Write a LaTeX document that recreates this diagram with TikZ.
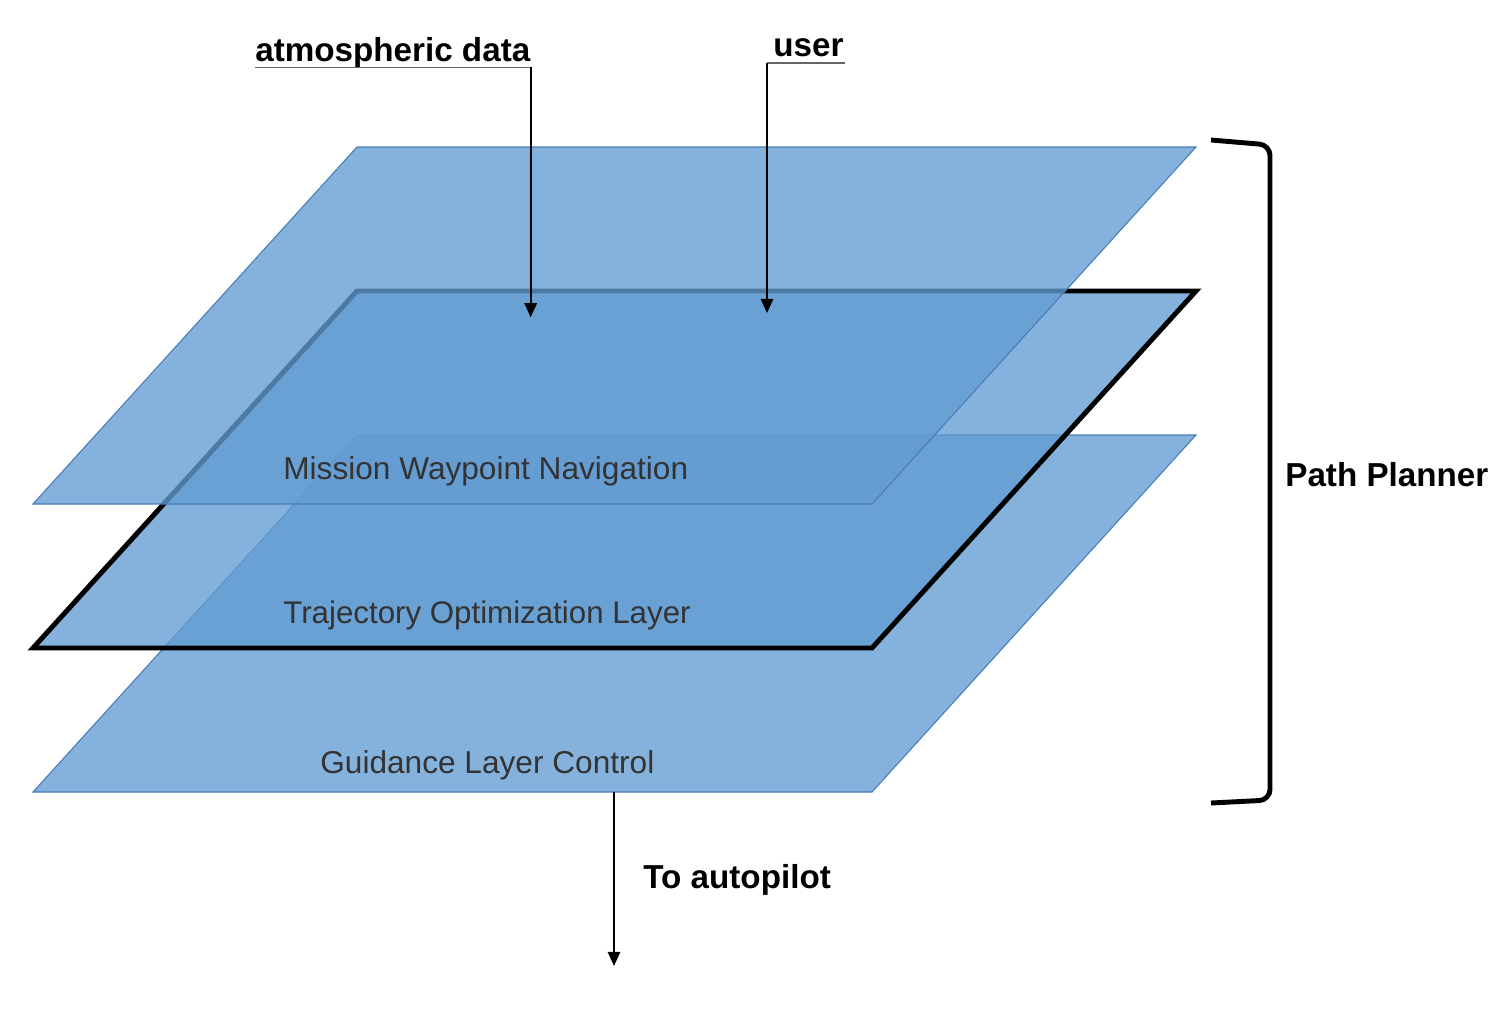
\documentclass[tikz,border=0pt]{standalone}
\usepackage{fontspec}
\setmainfont{Liberation Sans}
\usepackage{tikz}
\usetikzlibrary{arrows.meta}
\definecolor{layerblue}{RGB}{99,156,210}
\definecolor{layeredge}{RGB}{70,125,185}
\newcommand{\Plane}[2]{\coordinate (#2-a) at (357,#1); \coordinate (#2-b) at (1196,#1); \coordinate (#2-c) at (872,#1+357); \coordinate (#2-d) at (33,#1+357); \filldraw[plane] (#2-a) -- (#2-b) -- (#2-c) -- (#2-d) -- cycle;}

\begin{document}
\begin{tikzpicture}[x=0.02cm,y=-0.02cm,
    plane/.style={fill=layerblue,fill opacity=.78,draw=layeredge,line width=.6pt},
    tag/.style={font=\fontsize{18.9}{22}\selectfont\bfseries,inner sep=0pt},
    layertext/.style={font=\fontsize{18}{22}\selectfont,text=black!80,inner sep=0pt,anchor=west},
    uline/.style={draw=black!60,line width=.8pt},
    feed/.style={line width=1.1pt,-{Triangle[width=7pt,length=8pt]}}]
    \useasboundingbox (0,0) rectangle (1500,1024);

    % the three layers, lowest first
    \Plane{435}{guid}
    \Plane{291}{traj}
    \draw[line width=2.8pt,line join=miter] (traj-a) -- (traj-b) -- (traj-c) -- (traj-d) -- cycle;
    \Plane{147}{miss}

    \node[layertext] (misslbl) at (283,471) {Mission Waypoint Navigation};
    \node[layertext] (trajlbl) at (283,615) {\fontsize{17.8}{22}\selectfont Trajectory Optimization Layer};
    \node[layertext] (guidlbl) at (320,765) {Guidance Layer Control};

    % inputs
    \node[tag,anchor=base west] (atm) at (255,62) {atmospheric data};
    \draw[uline] ([yshift=-3pt]atm.base west) -- ([yshift=-3pt]atm.base east);
    \draw[feed] ([yshift=-3pt]atm.base east) -- ++(0,250);

    \node[tag,anchor=base west] (usr) at (773,57) {user};
    \draw[uline] ([shift={(-6,6)}]usr.base west) -- ([shift={(1,6)}]usr.base east);
    \draw[feed] ([shift={(-6,6)}]usr.base west) -- ++(0,250);

    % bracket
    \draw[line width=2.8pt,rounded corners=6pt] (1211,140) -- (1270,145) -- (1270,800) -- (1211,803);
    \node[tag,anchor=west] (pp) at (1285,475) {Path Planner};

    % output
    \coordinate (outtop) at (614,792);
    \coordinate (outend) at (614,966);
    \draw[feed] (outtop) -- (outend);
    \node[tag,anchor=west] (auto) at (643,880) {To autopilot};
  \end{tikzpicture}
\end{document}
